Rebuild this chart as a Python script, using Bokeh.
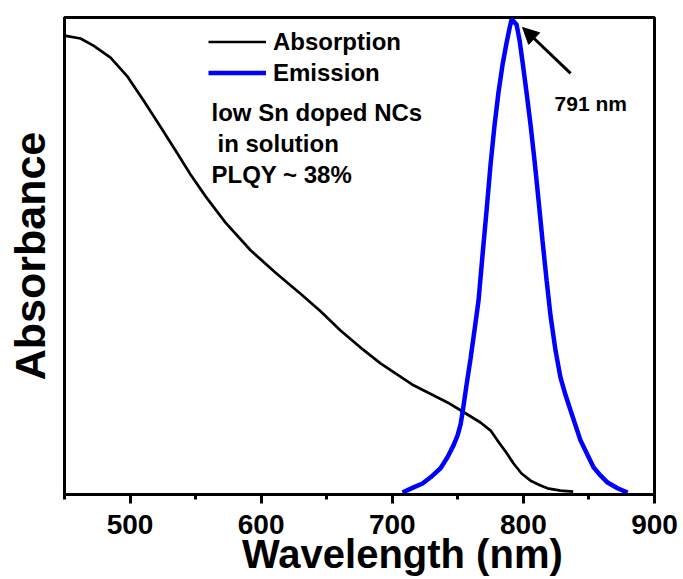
from bokeh.plotting import figure
from bokeh.models import (Range1d, FixedTicker, Label, Arrow, NormalHead, Legend, LegendItem)
from bokeh.embed import file_html
from bokeh.resources import INLINE

# Absorption spectrum (wavelength nm, normalized absorbance)
abs_wl = [450, 462.2, 472.1, 485.1, 498.1, 510.3, 523.2, 534.7, 546.1, 557.6, 572.8, 591.9, 611.0, 630.0,
          645.3, 660.5, 675.8, 691.0, 716.2, 742.1, 753.6, 767.3, 775.0, 780.3, 786.4, 792.5, 798.6,
          805.5, 813.1, 818.4, 828.3, 838.0]
abs_val = [0.962, 0.956, 0.941, 0.916, 0.876, 0.826, 0.771, 0.721, 0.671, 0.625, 0.570, 0.512, 0.465, 0.421,
           0.384, 0.344, 0.308, 0.275, 0.229, 0.193, 0.174, 0.151, 0.134, 0.113, 0.090, 0.065, 0.044,
           0.029, 0.019, 0.013, 0.008, 0.006]

# Emission spectrum (wavelength nm, normalized PL)
em_wl = [707.8, 716.2, 723.1, 729.2, 736.8, 742.1, 746.7, 749.8, 752.1, 753.6, 756.6, 759.7, 762.7, 765.8,
         768.8, 771.9, 774.9, 778.0, 781.0, 784.1, 787.1, 789.4, 791.0, 794.8, 797.1, 799.4, 802.4,
         805.5, 808.5, 811.6, 814.6, 817.7, 820.7, 824.5, 828.3, 832.2, 836.0, 843.6, 853.5, 858.8,
         864.2, 871.8, 879.5]
em_val = [0.004, 0.015, 0.023, 0.036, 0.055, 0.078, 0.103, 0.124, 0.147, 0.172, 0.229, 0.285, 0.344, 0.407,
          0.501, 0.595, 0.690, 0.774, 0.843, 0.901, 0.946, 0.977, 0.996, 0.985, 0.952, 0.906, 0.843,
          0.774, 0.700, 0.616, 0.532, 0.449, 0.375, 0.302, 0.245, 0.208, 0.176, 0.113, 0.057, 0.040,
          0.025, 0.013, 0.004]

x_major = [500, 600, 700, 800, 900]
x_minor = [450, 550, 650, 750, 850]

FONT = "Liberation Sans"
PAD = "\u00a0" * 7 + "\u2009"

p = figure(width=683, height=579, output_backend="svg", toolbar_location=None,
           x_range=Range1d(450, 900), y_range=Range1d(0, 1),
           min_border_left=64, min_border_right=29, min_border_top=17, min_border_bottom=85)
p.grid.visible = False
p.outline_line_color = "black"
p.outline_line_width = 3
p.background_fill_color = "white"
p.border_fill_color = "white"

xa = p.xaxis[0]
xa.ticker = FixedTicker(ticks=x_major, minor_ticks=x_minor)
xa.axis_line_width = 3
xa.major_tick_line_width = 3
xa.minor_tick_line_width = 3
xa.major_tick_in = 0
xa.major_tick_out = 9
xa.minor_tick_in = 0
xa.minor_tick_out = 5
xa.major_label_text_font = FONT
xa.major_label_text_font_style = "bold"
xa.major_label_text_font_size = "28px"
xa.major_label_text_color = "black"
xa.major_label_standoff = 11
xa.axis_label = PAD + "Wavelength (nm)"
xa.axis_label_text_font = FONT
xa.axis_label_text_font_style = "bold"
xa.axis_label_text_font_size = "40px"
xa.axis_label_text_color = "black"
xa.axis_label_standoff = -5

ya = p.yaxis[0]
ya.ticker = FixedTicker(ticks=[])
ya.axis_line_width = 3
ya.major_tick_line_color = None
ya.minor_tick_line_color = None
ya.major_label_text_font_size = "0px"
ya.axis_label = "Absorbance"
ya.axis_label_text_font = FONT
ya.axis_label_text_font_style = "bold"
ya.axis_label_text_font_size = "43px"
ya.axis_label_text_color = "black"
ya.axis_label_standoff = 11

r_abs = p.line(abs_wl, abs_val, line_color="black", line_width=2.7)
r_em = p.line(em_wl, em_val, line_color="#0000FF", line_width=4.5)

legend = Legend(items=[LegendItem(label="Absorption", renderers=[r_abs]),
                       LegendItem(label="Emission", renderers=[r_em])],
                location=(144, 406), glyph_width=58, glyph_height=31, label_height=31,
                label_standoff=7, spacing=0, padding=0, margin=0,
                border_line_color=None, background_fill_alpha=0,
                label_text_font=FONT, label_text_font_style="bold",
                label_text_font_size="24px", label_text_color="black")
p.add_layout(legend)

def lab(x, y, t, size, align="left"):
    p.add_layout(Label(x=x, y=y, text=t, text_font=FONT, text_font_style="bold",
                       text_font_size=size, text_color="black", text_align=align,
                       text_baseline="alphabetic"))

lab(562.1, 0.801, "low Sn doped NCs", "24px")
lab(566.7, 0.736, "in solution", "24px")
lab(562.1, 0.671, "PLQY ~ 38%", "24px")
lab(823.8, 0.820, "791 nm", "21px")

p.add_layout(Arrow(x_start=836.0, y_start=0.883, x_end=799.4, y_end=0.979,
                   line_width=3, line_color="black",
                   end=NormalHead(size=16, fill_color="black", line_color="black", line_width=1)))

open("out.html", "w").write(file_html(p, INLINE))
